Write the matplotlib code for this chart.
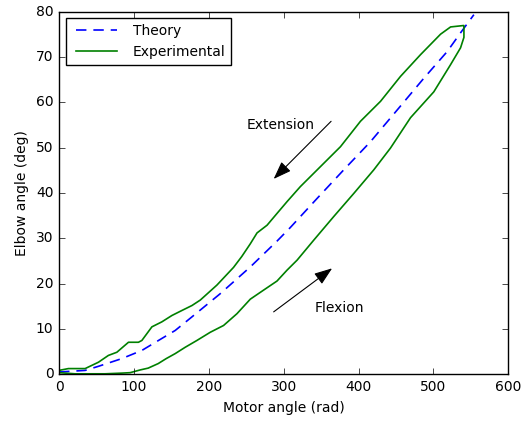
import matplotlib
matplotlib.use('Agg')
import matplotlib.pyplot as plt

# theory curve (dashed)
theory_x = [0, 34.8, 52.6, 83.8, 110.6, 132.8, 155.1, 177.5, 215.2, 255.4, 291.1,
            308.9, 344.6, 380.2, 415.9, 451.6, 487.2, 518.5, 536.2, 554]
theory_y = [0.55, 0.9, 1.8, 3.5, 5.3, 7.5, 9.7, 12.7, 17.8, 23.7, 29.4,
            32.4, 38.8, 45.1, 51.3, 58.3, 65.3, 71.2, 75.3, 79.3]

# experimental, flexion branch (going up)
flex_x = [0, 21.4, 61.5, 83.8, 94.9, 108.3, 119, 132.4, 143.1, 155.1, 168.5, 184.1,
          201.9, 219.7, 237.6, 255.4, 273.2, 291.1, 304.5, 317.9, 340.1, 366.8,
          393.6, 420.3, 442.6, 469.4, 500.5, 522.9, 536.2, 540.7, 540.7]
flex_y = [0.4, 0.15, 0.15, 0.3, 0.4, 1.0, 1.4, 2.4, 3.5, 4.6, 6.0, 7.5,
          9.3, 10.8, 13.4, 16.6, 18.6, 20.6, 23.0, 25.2, 29.6, 34.8,
          39.9, 45.1, 49.9, 56.6, 62.3, 68.3, 72.0, 74.3, 76.9]

# experimental, extension branch (going down)
ext_x = [0, 12.4, 34.8, 52.6, 65.9, 77.2, 92.7, 106, 110.6, 124, 137.3, 150.7,
         164, 177.5, 188.6, 210.8, 233, 244, 255.4, 264.4, 277.8, 291.1, 304.5, 322.2,
         349, 375.8, 402.5, 429.3, 456, 482.8, 509.5, 522.9, 539.8]
ext_y = [0.9, 1.3, 1.3, 2.7, 4.2, 4.9, 7.1, 7.1, 7.5, 10.5, 11.6, 13.0,
         14.1, 15.2, 16.4, 19.7, 23.6, 26.0, 28.8, 31.2, 32.9, 35.5, 38.1, 41.4,
         45.8, 50.2, 55.8, 60.2, 65.7, 70.5, 75.0, 76.6, 76.9]

plt.style.use('classic')
plt.rcParams['font.family'] = ['DejaVu Sans']
plt.rcParams['font.size'] = 10

fig = plt.figure(figsize=(5.32, 4.23), dpi=100, facecolor='white')
ax = fig.add_axes([0.111, 0.1147, 0.8445, 0.8581])

ax.plot(theory_x, theory_y, 'b--', lw=1.2, dashes=(7.5, 5), label='Theory')
# one closed loop: flexion up, extension back down
exp_x = flex_x + ext_x[::-1]
exp_y = flex_y + ext_y[::-1]
ax.plot(exp_x, exp_y, 'g-', lw=1.2, label='Experimental')

ax.set_xlim(0, 600)
ax.set_ylim(0, 80)
ax.set_xlabel('Motor angle (rad)', fontsize=10)
ax.set_ylabel('Elbow angle (deg)', fontsize=10)
ax.tick_params(labelsize=10)

arrow = dict(arrowstyle='-|>,head_length=1.1,head_width=0.4', color='black',
             lw=0.8, shrinkA=0, shrinkB=0)
ax.annotate('', xy=(286.6, 43.1), xytext=(363.3, 55.8), arrowprops=arrow)
ax.text(251, 55.0, 'Extension', fontsize=10, va='center', ha='left')
ax.annotate('', xy=(364.7, 23.4), xytext=(286.6, 13.8), arrowprops=arrow)
ax.text(341.4, 14.7, 'Flexion', fontsize=10, va='center', ha='left')

ax.legend(loc='upper left', fontsize=10, handlelength=3.6)

fig.savefig('out.png', dpi=100, facecolor='white')
